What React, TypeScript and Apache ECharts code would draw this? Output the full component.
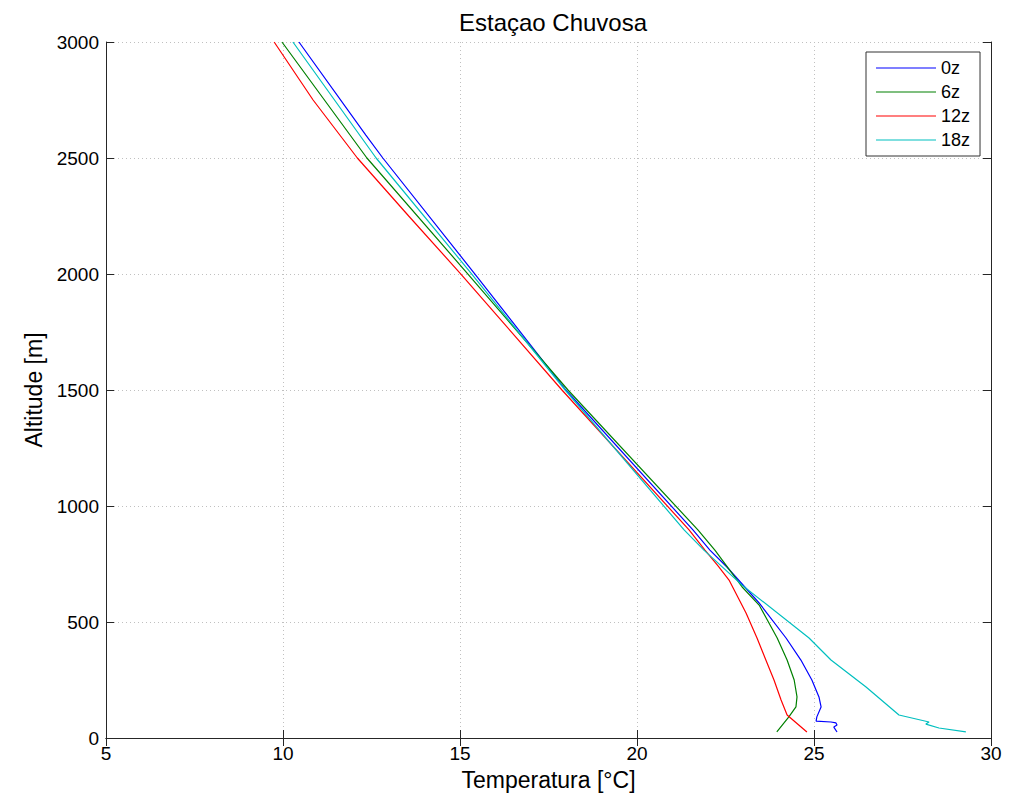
import React, { useEffect, useRef } from "react";
import * as echarts from "echarts";

// Altitude [m] and temperature [°C], per launch time
const alt0z = [3000, 2599, 2500, 2004, 1500, 897, 810, 737, 582, 431, 336, 250, 177, 134, 91, 73, 69, 65, 56, 47, 26];
const temp0z = [10.45, 12.34, 12.82, 15.4, 17.99, 21.58, 22.06, 22.54, 23.45, 24.21, 24.63, 24.94, 25.14, 25.2, 25.08, 25.06, 25.48, 25.62, 25.65, 25.56, 25.65];

const alt6z = [3000, 2500, 2004, 1500, 897, 810, 651, 573, 431, 336, 250, 177, 134, 91, 26];
const temp6z = [9.97, 12.37, 15.2, 18.05, 21.72, 22.2, 22.97, 23.45, 23.96, 24.24, 24.44, 24.52, 24.49, 24.29, 23.95];

const alt12z = [3000, 2750, 2500, 2250, 2004, 1500, 897, 810, 740, 681, 539, 431, 336, 250, 164, 99, 26];
const temp12z = [9.75, 10.85, 12.1, 13.55, 15.0, 17.88, 21.47, 21.92, 22.3, 22.6, 23.08, 23.39, 23.64, 23.87, 24.07, 24.24, 24.8];

const alt18z = [3000, 2500, 2004, 1500, 897, 810, 659, 431, 336, 220, 99, 69, 60, 43, 26];
const temp18z = [10.28, 12.63, 15.31, 17.97, 21.33, 21.89, 22.97, 24.86, 25.48, 26.47, 27.4, 28.25, 28.16, 28.53, 29.29];

const seriesNames = ["0z", "6z", "12z", "18z"];
const seriesColors = ["#0000ff", "#008000", "#ff0000", "#00bfbf"];
const seriesAlts = [alt0z, alt6z, alt12z, alt18z];
const seriesTemps = [temp0z, temp6z, temp12z, temp18z];

const FONT = "'Liberation Sans', Arial, Helvetica, sans-serif";
const W = 1027;
const H = 798;

export default function App() {
  const ref = useRef<HTMLDivElement>(null);
  useEffect(() => {
    if (!ref.current) return;
    const chart = echarts.init(ref.current, undefined, { renderer: "svg", width: W, height: H });
    const frame = "#262626";
    const gridLine = { show: true, lineStyle: { color: "#c0c0c0", type: [1, 3] as any, width: 1 } };
    const tick = { show: true, inside: true, length: 8, lineStyle: { color: frame } };
    chart.setOption({
      animation: false,
      backgroundColor: "#ffffff",
      textStyle: { fontFamily: FONT },
      title: {
        text: "Estaçao Chuvosa",
        left: 548,
        textAlign: "center",
        top: 5,
        textStyle: { fontSize: 24, fontWeight: "normal", color: "#000", fontFamily: FONT },
      },
      grid: { left: 106, top: 42, right: 36, bottom: 60, containLabel: false },
      legend: {
        orient: "vertical",
        left: 866,
        top: 52,
        padding: [7, 10, 7, 10],
        itemWidth: 60,
        itemHeight: 14,
        itemGap: 6,
        borderColor: "#333",
        borderWidth: 1,
        backgroundColor: "#fff",
        textStyle: { fontSize: 18, color: "#000", fontFamily: FONT },
        data: seriesNames.map((n) => ({ name: n, icon: "path://M0,0 L60,0 L60,1 L0,1 Z" })),
      },
      xAxis: [
        {
          type: "value",
          min: 5,
          max: 30,
          interval: 5,
          position: "bottom",
          name: "Temperatura [°C]",
          nameLocation: "middle",
          nameGap: 30,
          nameTextStyle: { fontSize: 23, color: "#000", fontFamily: FONT },
          axisLine: { show: true, lineStyle: { color: frame } },
          axisTick: tick,
          axisLabel: { fontSize: 19, color: "#000", margin: 6, fontFamily: FONT },
          splitLine: gridLine,
        },
        {
          type: "value",
          min: 5,
          max: 30,
          interval: 5,
          position: "top",
          axisLine: { show: true, lineStyle: { color: frame } },
          axisTick: tick,
          axisLabel: { show: false },
          splitLine: { show: false },
        },
      ],
      yAxis: [
        {
          type: "value",
          min: 0,
          max: 3000,
          interval: 500,
          position: "left",
          name: "Altitude [m]",
          nameLocation: "middle",
          nameGap: 50,
          nameTextStyle: { fontSize: 23, color: "#000", fontFamily: FONT },
          axisLine: { show: true, lineStyle: { color: frame } },
          axisTick: tick,
          axisLabel: { fontSize: 19, color: "#000", margin: 7, fontFamily: FONT, formatter: (v: number) => String(v) },
          splitLine: gridLine,
        },
        {
          type: "value",
          min: 0,
          max: 3000,
          interval: 500,
          position: "right",
          axisLine: { show: true, lineStyle: { color: frame } },
          axisTick: tick,
          axisLabel: { show: false },
          splitLine: { show: false },
        },
      ],
      series: seriesNames.map((name, i) => ({
        name,
        type: "line",
        xAxisIndex: 0,
        yAxisIndex: 0,
        symbol: "none",
        showSymbol: false,
        smooth: false,
        color: seriesColors[i],
        lineStyle: { color: seriesColors[i], width: 1.2 },
        data: seriesTemps[i].map((t, k) => [t, seriesAlts[i][k]]),
        z: 3 + i,
      })),
    });
    return () => chart.dispose();
  }, []);
  return (
    <div
      ref={ref}
      style={{ position: "absolute", left: 0, top: 0, width: W, height: H }}
    />
  );
}
